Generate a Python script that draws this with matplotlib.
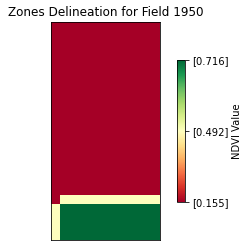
import matplotlib
matplotlib.use('agg')
import matplotlib.pyplot as plt
import numpy as np
from matplotlib.colors import TwoSlopeNorm

# NDVI value of each zone and the zone map (one char per cell, top row first)
zone_ndvi = [0.155, 0.492, 0.716]
zone_map = [
    "000000000000",
    "000000000000",
    "000000000000",
    "000000000000",
    "000000000000",
    "000000000000",
    "000000000000",
    "000000000000",
    "000000000000",
    "000000000000",
    "000000000000",
    "000000000000",
    "000000000000",
    "000000000000",
    "000000000000",
    "000000000000",
    "000000000000",
    "000000000000",
    "000000000000",
    "011111111111",
    "122222222222",
    "122222222222",
    "122222222222",
    "122222222222",
]
field_id = 1950

grid = np.array([[zone_ndvi[int(c)] for c in row] for row in zone_map])

fig = plt.figure(figsize=(248 / 72, 247 / 72), dpi=72)
ax = fig.add_axes([51 / 248, 7 / 247, 109 / 248, 218 / 247])
norm = TwoSlopeNorm(vmin=zone_ndvi[0], vcenter=zone_ndvi[1], vmax=zone_ndvi[2])
im = ax.imshow(grid, cmap='RdYlGn', norm=norm, aspect='auto', interpolation='nearest')
ax.set_xticks([])
ax.set_yticks([])
ax.set_title('Zones Delineation for Field %d' % field_id, fontsize=12)

cax = fig.add_axes([177 / 248, 45 / 247, 8 / 248, 142 / 247])
cb = fig.colorbar(im, cax=cax)
cb.set_ticks(zone_ndvi)
cb.set_ticklabels(['[%.3f]' % v for v in zone_ndvi])
cb.set_label('NDVI Value')

fig.savefig('out.png', dpi=72)
